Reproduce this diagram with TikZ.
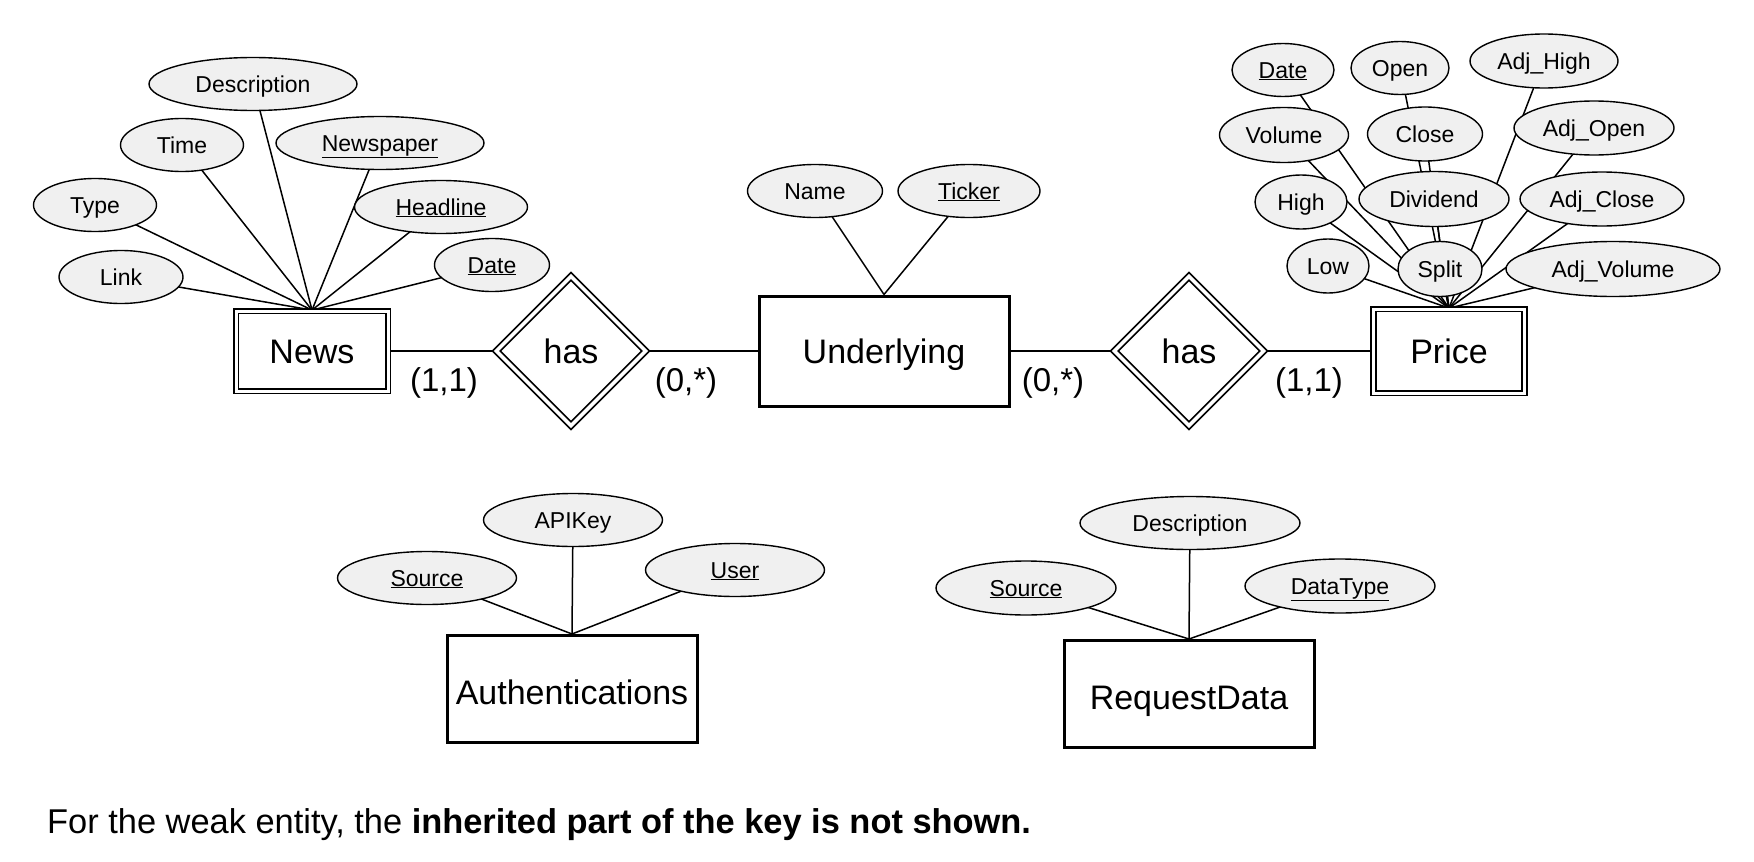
\documentclass[tikz,border=0pt]{standalone}
\usepackage{fontspec}
\setmainfont{Liberation Sans}
\usetikzlibrary{shapes.geometric,backgrounds}
\definecolor{attrfill}{RGB}{240,240,240}
\begin{document}
\begin{tikzpicture}[x=1pt,y=-1pt,
  attr/.style={ellipse,draw,line width=1.4pt,fill=attrfill,inner sep=0pt,text height=17pt,text depth=1pt,font=\fontsize{23}{27}\selectfont},
  ent/.style={rectangle,draw,line width=3pt,inner sep=0pt,text height=25pt,text depth=0pt,font=\fontsize{34}{40}\selectfont},
  weak/.style={rectangle,draw,double,double distance=3pt,line width=1.8pt,inner sep=0pt,text height=25pt,text depth=0pt,font=\fontsize{34}{40}\selectfont},
  rel/.style={diamond,draw,double,double distance=3.5pt,line width=1.8pt,inner sep=0pt,aspect=1,text height=25pt,text depth=0pt,font=\fontsize{34}{40}\selectfont},
  card/.style={font=\fontsize{33}{40}\selectfont,inner sep=0pt},
  conn/.style={line width=1.8pt},
  aline/.style={line width=1.5pt}]
\useasboundingbox (0,0) rectangle (1754,862);

% entities and relationships
\node[weak,minimum width=152pt,minimum height=80pt] (news) at (312,351) {News};
\node[rel,minimum width=150pt,minimum height=150pt] (has1) at (571,351) {has};
\node[ent,minimum width=250pt,minimum height=110pt] (und) at (884,351) {Underlying};
\node[rel,minimum width=150pt,minimum height=150pt] (has2) at (1189,351) {has};
\node[weak,minimum width=151pt,minimum height=84pt] (price) at (1449,351) {Price};
\node[ent,minimum width=250pt,minimum height=107pt,text height=30pt] (auth) at (572,689) {Authentications};
\node[ent,minimum width=250pt,minimum height=107pt,text height=30pt] (req) at (1189,694) {RequestData};

% cardinalities
\node[card] (c1) at (444,383) {(1,1)};
\node[card] (c2) at (686,383) {(0,*)};
\node[card] (c3) at (1053,383) {(0,*)};
\node[card] (c4) at (1309,383) {(1,1)};

% News attributes
\node[attr,minimum width=208pt,minimum height=53pt] (nDesc) at (253,84) {Description};
\node[attr,minimum width=123pt,minimum height=53pt] (nTime) at (182,145) {Time};
\node[attr,minimum width=208pt,minimum height=53pt] (nPaper) at (380,143) {\underline{Newspaper}};
\node[attr,minimum width=123pt,minimum height=53pt] (nType) at (95,205) {Type};
\node[attr,minimum width=173pt,minimum height=53pt] (nHead) at (441,207) {\underline{Headline}};
\node[attr,minimum width=124pt,minimum height=53pt] (nLink) at (121,277) {Link};
\node[attr,minimum width=115pt,minimum height=53pt] (nDate) at (492,265) {\underline{Date}};

% Underlying attributes
\node[attr,minimum width=135pt,minimum height=53pt] (uName) at (815,191) {Name};
\node[attr,minimum width=142pt,minimum height=53pt] (uTick) at (969,191) {\underline{Ticker}};

% Price attributes
\node[attr,minimum width=102pt,minimum height=53pt] (pDate) at (1283,70) {\underline{Date}};
\node[attr,minimum width=98pt,minimum height=53pt] (pOpen) at (1400,68) {Open};
\node[attr,minimum width=148pt,minimum height=54pt] (pAdjHigh) at (1544,61) {Adj\_High};
\node[attr,minimum width=129pt,minimum height=55pt] (pVolume) at (1284,135) {Volume};
\node[attr,minimum width=115pt,minimum height=54pt] (pClose) at (1425,134) {Close};
\node[attr,minimum width=160pt,minimum height=54pt] (pAdjOpen) at (1594,128) {Adj\_Open};
\node[attr,minimum width=92pt,minimum height=54pt] (pHigh) at (1301,202) {High};
\node[attr,minimum width=150pt,minimum height=55pt] (pDiv) at (1434,199) {Dividend};
\node[attr,minimum width=164pt,minimum height=54pt] (pAdjClose) at (1602,199) {Adj\_Close};
\node[attr,minimum width=82pt,minimum height=54pt] (pLow) at (1328,266) {Low};
\node[attr,minimum width=84pt,minimum height=55pt] (pSplit) at (1440,269) {Split};
\node[attr,minimum width=214pt,minimum height=55pt] (pAdjVol) at (1613,269) {Adj\_Volume};

% Authentications attributes
\node[attr,minimum width=179pt,minimum height=53pt] (aSrc) at (427,578) {\underline{Source}};
\node[attr,minimum width=179pt,minimum height=53pt] (aKey) at (573,520) {APIKey};
\node[attr,minimum width=179pt,minimum height=53pt] (aUser) at (735,570) {\underline{User}};

% RequestData attributes
\node[attr,minimum width=180pt,minimum height=54pt] (rSrc) at (1026,588) {\underline{Source}};
\node[attr,minimum width=220pt,minimum height=53pt] (rDesc) at (1190,523) {Description};
\node[attr,minimum width=190pt,minimum height=54pt] (rType) at (1340,586) {\underline{DataType}};

% footer
\node[anchor=west,inner sep=0pt,font=\fontsize{34.4}{40}\selectfont] (foot) at (47,825)
  {For the weak entity, the \textbf{inherited part of the key is not shown.}};

\begin{pgfonlayer}{background}
  \draw[conn] (news.east) -- (has1.west);
  \draw[conn] (has1.east) -- (und.west);
  \draw[conn] (und.east) -- (has2.west);
  \draw[conn] (has2.east) -- (price.west);
  \foreach \a in {nDesc,nTime,nPaper,nType,nHead,nLink,nDate}
    \draw[aline] (\a.center) -- (news.north);
  \foreach \a in {uName,uTick}
    \draw[aline] (\a.center) -- (und.north);
  \foreach \a in {pDate,pOpen,pAdjHigh,pVolume,pClose,pAdjOpen,pHigh,pDiv,pAdjClose,pLow,pSplit,pAdjVol}
    \draw[aline] (\a.center) -- (price.north);
  \foreach \a in {aSrc,aKey,aUser}
    \draw[aline] (\a.center) -- (auth.north);
  \foreach \a in {rSrc,rDesc,rType}
    \draw[aline] (\a.center) -- (req.north);
\end{pgfonlayer}
\end{tikzpicture}
\end{document}
